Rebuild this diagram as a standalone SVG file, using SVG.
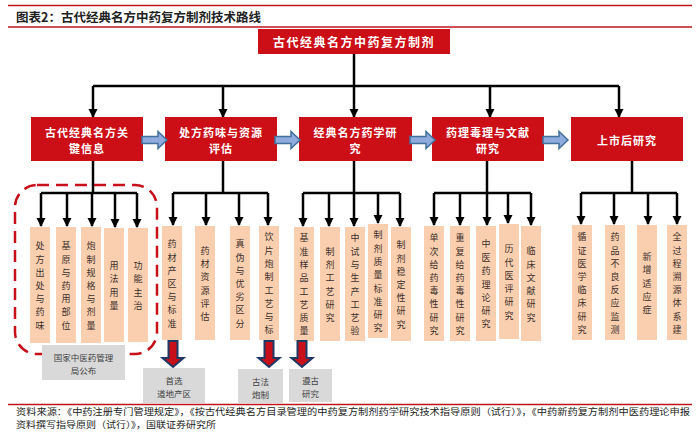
<svg xmlns="http://www.w3.org/2000/svg" xmlns:xlink="http://www.w3.org/1999/xlink" width="700" height="436" viewBox="0 0 700 436">
<style>
text{font-family:"Noto Sans CJK SC","Noto Sans",sans-serif}
.rule{stroke:#c0141c;stroke-width:1.5}
.title{font-size:12.5px;font-weight:700;fill:#222}
.red{fill:#cc0e16}
.rt{font-size:11px;fill:#fff;font-weight:700;letter-spacing:1px;text-anchor:middle;dominant-baseline:central}
.ln{stroke:#000;stroke-width:2.5;fill:none}
.ar{marker-end:url(#ah)}
.peach{fill:#f9cfb0}
.vt{font-size:9px;fill:#40302a;text-anchor:middle;dominant-baseline:central}
.gray{fill:#d9d9d9}
.gt{font-size:8.5px;fill:#404040;text-anchor:middle;dominant-baseline:central}
.flow{fill:#8faadc;stroke:#41719c;stroke-width:1.5}
.down{fill:#c8101a;stroke:#1f3864;stroke-width:2}
.src{font-size:8.9px;fill:#222}
</style>
<defs>
<marker id="ah" markerWidth="10" markerHeight="10" refX="8" refY="5" orient="auto" markerUnits="userSpaceOnUse"><path d="M0,0.5 L9,5 L0,9.5 z" fill="#000"/></marker>
<path id="rarrow" d="M0,-3.5 H16 V-8.5 L25,0 L16,8.5 V3.5 H0 Z"/>
<path id="darrow" d="M-4.5,0 V17 H-10.5 L0,26 L10.5,17 H4.5 V0 Z"/>
</defs>
<rect width="700" height="436" fill="#fff"/>
<g id="header">
<line class="rule" x1="8" y1="5.5" x2="692" y2="5.5"/>
<text class="title" x="16" y="21.5">图表2：古代经典名方中药复方制剂技术路线</text>
<line class="rule" x1="8" y1="27" x2="692" y2="27"/>
</g>
<g id="connectors">
<polyline class="ln" points="354,54 354,86"/>
<polyline class="ln" points="93,86 619,86"/>
<line class="ln ar" x1="93" y1="86" x2="93" y2="117"/>
<line class="ln ar" x1="223" y1="86" x2="223" y2="117"/>
<line class="ln ar" x1="354" y1="86" x2="354" y2="117"/>
<line class="ln ar" x1="490" y1="86" x2="490" y2="117"/>
<line class="ln ar" x1="619" y1="86" x2="619" y2="117"/>
<line class="ln" x1="93" y1="161" x2="93" y2="193"/>
<line class="ln" x1="41" y1="193" x2="137" y2="193"/>
<line class="ln ar" x1="41" y1="193" x2="41" y2="226"/>
<line class="ln ar" x1="67" y1="193" x2="67" y2="226"/>
<line class="ln ar" x1="92" y1="193" x2="92" y2="226"/>
<line class="ln ar" x1="115" y1="193" x2="115" y2="227"/>
<line class="ln ar" x1="137" y1="193" x2="137" y2="227"/>
<line class="ln" x1="223" y1="161" x2="223" y2="193"/>
<line class="ln" x1="173" y1="193" x2="268" y2="193"/>
<line class="ln ar" x1="173" y1="193" x2="173" y2="225"/>
<line class="ln ar" x1="206" y1="193" x2="206" y2="225"/>
<line class="ln ar" x1="239" y1="193" x2="239" y2="225"/>
<line class="ln ar" x1="268" y1="193" x2="268" y2="225"/>
<line class="ln" x1="354" y1="161" x2="354" y2="193"/>
<line class="ln" x1="303" y1="193" x2="400" y2="193"/>
<line class="ln ar" x1="303" y1="193" x2="303" y2="226"/>
<line class="ln ar" x1="329" y1="193" x2="329" y2="226"/>
<line class="ln ar" x1="354" y1="193" x2="354" y2="226"/>
<line class="ln ar" x1="378" y1="193" x2="378" y2="223"/>
<line class="ln ar" x1="400" y1="193" x2="400" y2="226"/>
<line class="ln" x1="487" y1="161" x2="487" y2="193"/>
<line class="ln" x1="434" y1="193" x2="531" y2="193"/>
<line class="ln ar" x1="434" y1="193" x2="434" y2="225"/>
<line class="ln ar" x1="460" y1="193" x2="460" y2="225"/>
<line class="ln ar" x1="487" y1="193" x2="487" y2="225"/>
<line class="ln ar" x1="508" y1="193" x2="508" y2="223"/>
<line class="ln ar" x1="531" y1="193" x2="531" y2="225"/>
<line class="ln" x1="632" y1="161" x2="632" y2="193"/>
<line class="ln" x1="581" y1="193" x2="677" y2="193"/>
<line class="ln ar" x1="581" y1="193" x2="581" y2="224"/>
<line class="ln ar" x1="614" y1="193" x2="614" y2="224"/>
<line class="ln ar" x1="648" y1="193" x2="648" y2="224"/>
<line class="ln ar" x1="677" y1="193" x2="677" y2="224"/>
</g>
<g id="root">
<rect class="red" x="258" y="29" width="192" height="25"/>
<text class="rt" x="354" y="41.5" style="font-size:12px;letter-spacing:1.5px">古代经典名方中药复方制剂</text>
</g>
<g id="r1"><rect class="red" x="31" y="117" width="112" height="44"/>
<text class="rt" x="87" y="132">古代经典名方关</text><text class="rt" x="87" y="148">键信息</text></g>
<g id="r2"><rect class="red" x="165" y="117" width="112" height="44"/>
<text class="rt" x="221" y="132">处方药味与资源</text><text class="rt" x="221" y="148">评估</text></g>
<g id="r3"><rect class="red" x="299" y="117" width="113" height="44"/>
<text class="rt" x="355.5" y="132">经典名方药学研</text><text class="rt" x="355.5" y="148">究</text></g>
<g id="r4"><rect class="red" x="432" y="117" width="112" height="44"/>
<text class="rt" x="488" y="132">药理毒理与文献</text><text class="rt" x="488" y="148">研究</text></g>
<g id="r5"><rect class="red" x="571" y="117" width="112" height="44"/>
<text class="rt" x="627" y="140">上市后研究</text></g>
<g id="flow-arrows">
<use href="#rarrow" class="flow" x="142" y="140"/>
<use href="#rarrow" class="flow" x="275" y="140"/>
<use href="#rarrow" class="flow" x="410" y="140"/>
<use href="#rarrow" class="flow" x="543" y="140"/>
</g>
<g id="dashed-group">
<rect x="15" y="185" width="142" height="169" rx="22" ry="22" fill="none" stroke="#c8101a" stroke-width="2.5" stroke-dasharray="12 7"/>
</g>
<g id="a1"><rect class="peach" x="30" y="227" width="20" height="116"/><text class="vt" x="40" y="245.4">处<tspan x="40" dy="13.2">方</tspan><tspan x="40" dy="13.2">出</tspan><tspan x="40" dy="13.2">处</tspan><tspan x="40" dy="13.2">与</tspan><tspan x="40" dy="13.2">药</tspan><tspan x="40" dy="13.2">味</tspan></text></g>
<g id="a2"><rect class="peach" x="56" y="227" width="20" height="116"/><text class="vt" x="66" y="245.4">基<tspan x="66" dy="13.2">原</tspan><tspan x="66" dy="13.2">与</tspan><tspan x="66" dy="13.2">药</tspan><tspan x="66" dy="13.2">用</tspan><tspan x="66" dy="13.2">部</tspan><tspan x="66" dy="13.2">位</tspan></text></g>
<g id="a3"><rect class="peach" x="81" y="227" width="20" height="116"/><text class="vt" x="91" y="245.4">炮<tspan x="91" dy="13.2">制</tspan><tspan x="91" dy="13.2">规</tspan><tspan x="91" dy="13.2">格</tspan><tspan x="91" dy="13.2">与</tspan><tspan x="91" dy="13.2">剂</tspan><tspan x="91" dy="13.2">量</tspan></text></g>
<g id="a4"><rect class="peach" x="104" y="228" width="20" height="114"/><text class="vt" x="114" y="265.2">用<tspan x="114" dy="13.2">法</tspan><tspan x="114" dy="13.2">用</tspan><tspan x="114" dy="13.2">量</tspan></text></g>
<g id="a5"><rect class="peach" x="128" y="228" width="20" height="114"/><text class="vt" x="138" y="265.2">功<tspan x="138" dy="13.2">能</tspan><tspan x="138" dy="13.2">主</tspan><tspan x="138" dy="13.2">治</tspan></text></g>
<g id="b1"><rect class="peach" x="162" y="226" width="20" height="114"/><text class="vt" x="172" y="243.4">药<tspan x="172" dy="13.2">材</tspan><tspan x="172" dy="13.2">产</tspan><tspan x="172" dy="13.2">区</tspan><tspan x="172" dy="13.2">与</tspan><tspan x="172" dy="13.2">标</tspan><tspan x="172" dy="13.2">准</tspan></text></g>
<g id="b2"><rect class="peach" x="195" y="226" width="20" height="114"/><text class="vt" x="205" y="250">药<tspan x="205" dy="13.2">材</tspan><tspan x="205" dy="13.2">资</tspan><tspan x="205" dy="13.2">源</tspan><tspan x="205" dy="13.2">评</tspan><tspan x="205" dy="13.2">估</tspan></text></g>
<g id="b3"><rect class="peach" x="230" y="226" width="20" height="114"/><text class="vt" x="240" y="243.4">真<tspan x="240" dy="13.2">伪</tspan><tspan x="240" dy="13.2">与</tspan><tspan x="240" dy="13.2">优</tspan><tspan x="240" dy="13.2">劣</tspan><tspan x="240" dy="13.2">区</tspan><tspan x="240" dy="13.2">分</tspan></text></g>
<g id="b4"><rect class="peach" x="259" y="226" width="20" height="114"/><text class="vt" x="269" y="236.8">饮<tspan x="269" dy="13.2">片</tspan><tspan x="269" dy="13.2">炮</tspan><tspan x="269" dy="13.2">制</tspan><tspan x="269" dy="13.2">工</tspan><tspan x="269" dy="13.2">艺</tspan><tspan x="269" dy="13.2">与</tspan><tspan x="269" dy="13.2">标</tspan></text></g>
<g id="c1"><rect class="peach" x="294" y="227" width="20" height="114"/><text class="vt" x="304" y="237.8">基<tspan x="304" dy="13.2">准</tspan><tspan x="304" dy="13.2">样</tspan><tspan x="304" dy="13.2">品</tspan><tspan x="304" dy="13.2">工</tspan><tspan x="304" dy="13.2">艺</tspan><tspan x="304" dy="13.2">质</tspan><tspan x="304" dy="13.2">量</tspan></text></g>
<g id="c2"><rect class="peach" x="320" y="227" width="20" height="114"/><text class="vt" x="330" y="251">制<tspan x="330" dy="13.2">剂</tspan><tspan x="330" dy="13.2">工</tspan><tspan x="330" dy="13.2">艺</tspan><tspan x="330" dy="13.2">研</tspan><tspan x="330" dy="13.2">究</tspan></text></g>
<g id="c3"><rect class="peach" x="345" y="227" width="20" height="114"/><text class="vt" x="355" y="237.8">中<tspan x="355" dy="13.2">试</tspan><tspan x="355" dy="13.2">与</tspan><tspan x="355" dy="13.2">生</tspan><tspan x="355" dy="13.2">产</tspan><tspan x="355" dy="13.2">工</tspan><tspan x="355" dy="13.2">艺</tspan><tspan x="355" dy="13.2">验</tspan></text></g>
<g id="c4"><rect class="peach" x="368" y="224" width="20" height="114"/><text class="vt" x="378" y="234.8">制<tspan x="378" dy="13.2">剂</tspan><tspan x="378" dy="13.2">质</tspan><tspan x="378" dy="13.2">量</tspan><tspan x="378" dy="13.2">标</tspan><tspan x="378" dy="13.2">准</tspan><tspan x="378" dy="13.2">研</tspan><tspan x="378" dy="13.2">究</tspan></text></g>
<g id="c5"><rect class="peach" x="391" y="227" width="20" height="114"/><text class="vt" x="401" y="244.4">制<tspan x="401" dy="13.2">剂</tspan><tspan x="401" dy="13.2">稳</tspan><tspan x="401" dy="13.2">定</tspan><tspan x="401" dy="13.2">性</tspan><tspan x="401" dy="13.2">研</tspan><tspan x="401" dy="13.2">究</tspan></text></g>
<g id="d1"><rect class="peach" x="424" y="226" width="20" height="115"/><text class="vt" x="434" y="237.3">单<tspan x="434" dy="13.2">次</tspan><tspan x="434" dy="13.2">给</tspan><tspan x="434" dy="13.2">药</tspan><tspan x="434" dy="13.2">毒</tspan><tspan x="434" dy="13.2">性</tspan><tspan x="434" dy="13.2">研</tspan><tspan x="434" dy="13.2">究</tspan></text></g>
<g id="d2"><rect class="peach" x="450" y="226" width="20" height="115"/><text class="vt" x="460" y="237.3">重<tspan x="460" dy="13.2">复</tspan><tspan x="460" dy="13.2">给</tspan><tspan x="460" dy="13.2">药</tspan><tspan x="460" dy="13.2">毒</tspan><tspan x="460" dy="13.2">性</tspan><tspan x="460" dy="13.2">研</tspan><tspan x="460" dy="13.2">究</tspan></text></g>
<g id="d3"><rect class="peach" x="476" y="226" width="20" height="115"/><text class="vt" x="486" y="243.9">中<tspan x="486" dy="13.2">医</tspan><tspan x="486" dy="13.2">药</tspan><tspan x="486" dy="13.2">理</tspan><tspan x="486" dy="13.2">论</tspan><tspan x="486" dy="13.2">研</tspan><tspan x="486" dy="13.2">究</tspan></text></g>
<g id="d4"><rect class="peach" x="499" y="224" width="20" height="115"/><text class="vt" x="509" y="248.5">历<tspan x="509" dy="13.2">代</tspan><tspan x="509" dy="13.2">医</tspan><tspan x="509" dy="13.2">评</tspan><tspan x="509" dy="13.2">研</tspan><tspan x="509" dy="13.2">究</tspan></text></g>
<g id="d5"><rect class="peach" x="521" y="226" width="20" height="115"/><text class="vt" x="531" y="250.5">临<tspan x="531" dy="13.2">床</tspan><tspan x="531" dy="13.2">文</tspan><tspan x="531" dy="13.2">献</tspan><tspan x="531" dy="13.2">研</tspan><tspan x="531" dy="13.2">究</tspan></text></g>
<g id="e1"><rect class="peach" x="572" y="225" width="20" height="115"/><text class="vt" x="582" y="236.3">循<tspan x="582" dy="13.2">证</tspan><tspan x="582" dy="13.2">医</tspan><tspan x="582" dy="13.2">学</tspan><tspan x="582" dy="13.2">临</tspan><tspan x="582" dy="13.2">床</tspan><tspan x="582" dy="13.2">研</tspan><tspan x="582" dy="13.2">究</tspan></text></g>
<g id="e2"><rect class="peach" x="605" y="225" width="20" height="115"/><text class="vt" x="615" y="236.3">药<tspan x="615" dy="13.2">品</tspan><tspan x="615" dy="13.2">不</tspan><tspan x="615" dy="13.2">良</tspan><tspan x="615" dy="13.2">反</tspan><tspan x="615" dy="13.2">应</tspan><tspan x="615" dy="13.2">监</tspan><tspan x="615" dy="13.2">测</tspan></text></g>
<g id="e3"><rect class="peach" x="637" y="225" width="20" height="115"/><text class="vt" x="647" y="256.1">新<tspan x="647" dy="13.2">增</tspan><tspan x="647" dy="13.2">适</tspan><tspan x="647" dy="13.2">应</tspan><tspan x="647" dy="13.2">症</tspan></text></g>
<g id="e4"><rect class="peach" x="667" y="225" width="20" height="115"/><text class="vt" x="677" y="236.3">全<tspan x="677" dy="13.2">过</tspan><tspan x="677" dy="13.2">程</tspan><tspan x="677" dy="13.2">溯</tspan><tspan x="677" dy="13.2">源</tspan><tspan x="677" dy="13.2">体</tspan><tspan x="677" dy="13.2">系</tspan><tspan x="677" dy="13.2">建</tspan></text></g>
<g id="down-arrows">
<use href="#darrow" class="down" x="173" y="341"/>
<use href="#darrow" class="down" x="269" y="341"/>
<use href="#darrow" class="down" x="302" y="341"/>
</g>
<g id="n0"><rect class="gray" x="42" y="345" width="83" height="35"/><text class="gt" x="83.5" y="357">国家中医药管理</text><text class="gt" x="83.5" y="369.5">局公布</text></g>
<g id="n1"><rect class="gray" x="143" y="368" width="62" height="35"/><text class="gt" x="174" y="380">首选</text><text class="gt" x="174" y="393">道地产区</text></g>
<g id="n2"><rect class="gray" x="238" y="369" width="45" height="34"/><text class="gt" x="260.5" y="381">古法</text><text class="gt" x="260.5" y="394">炮制</text></g>
<g id="n3"><rect class="gray" x="289" y="369" width="43" height="33"/><text class="gt" x="310.5" y="380">遵古</text><text class="gt" x="310.5" y="393">研究</text></g>
<g id="footer">
<line class="rule" x1="8" y1="404.5" x2="692" y2="404.5"/>
<text class="src" x="16" y="414.5" textLength="674" lengthAdjust="spacingAndGlyphs">资料来源：《中药注册专门管理规定》，《按古代经典名方目录管理的中药复方制剂药学研究技术指导原则（试行）》，《中药新药复方制剂中医药理论申报</text>
<text class="src" x="16" y="427.5" textLength="200" lengthAdjust="spacingAndGlyphs">资料撰写指导原则（试行）》，国联证券研究所</text>
</g>
</svg>
